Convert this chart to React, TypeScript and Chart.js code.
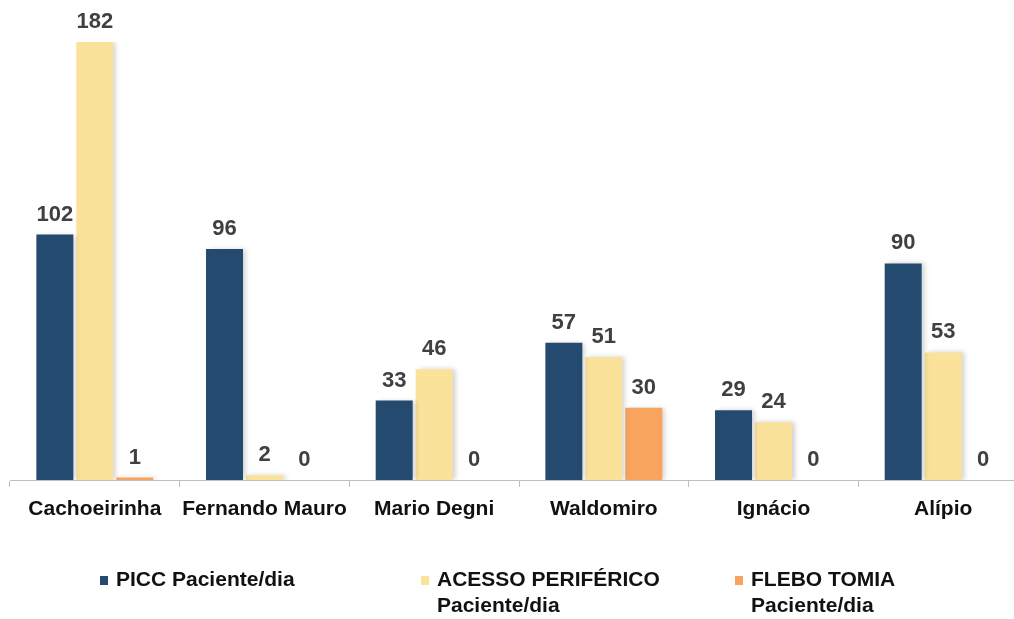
import React, { useEffect, useRef } from "react";
import { Chart, registerables } from "chart.js";

Chart.register(...registerables);

const categories = ["Cachoeirinha", "Fernando Mauro", "Mario Degni", "Waldomiro", "Ignácio", "Alípio"];
const piccValues = [102, 96, 33, 57, 29, 90];
const acessoValues = [182, 2, 46, 51, 24, 53];
const fleboValues = [1, 0, 0, 30, 0, 0];
const seriesLabels = ["PICC Paciente/dia", "ACESSO PERIFÉRICO Paciente/dia", "FLEBOTOMIA Paciente/dia"];
const legendLines = [["PICC Paciente/dia"], ["ACESSO PERIFÉRICO", "Paciente/dia"], ["FLEBO TOMIA", "Paciente/dia"]];
const seriesColors = ["#254A70", "#FBE29B", "#F8A45E"];
const Y_MAX = 182;

const FONT = "'Liberation Sans', Arial, sans-serif";
const CANVAS_W = 1040;
const CANVAS_H = 619;
const legendX = [100, 421, 735];
const legendY = 580;

const customPlugin = {
  id: "custom",
  beforeDatasetsDraw(chart: any) {
    const ctx = chart.ctx;
    ctx.save();
    ctx.shadowColor = "rgba(0,0,0,0.18)";
    ctx.shadowBlur = 5;
    ctx.shadowOffsetX = 3;
    ctx.shadowOffsetY = 0;
  },
  afterDatasetsDraw(chart: any) {
    const ctx = chart.ctx;
    ctx.restore();
    ctx.save();
    ctx.font = `bold 22px ${FONT}`;
    ctx.fillStyle = "#404040";
    ctx.textAlign = "center";
    ctx.textBaseline = "alphabetic";
    chart.data.datasets.forEach((ds: any, i: number) => {
      const meta = chart.getDatasetMeta(i);
      meta.data.forEach((bar: any, j: number) => {
        ctx.fillText(String(ds.data[j]), bar.x, bar.y - 14);
      });
    });
    ctx.restore();
  },
  afterDraw(chart: any) {
    const ctx = chart.ctx;
    ctx.save();
    ctx.font = `bold 21px ${FONT}`;
    ctx.textAlign = "left";
    ctx.textBaseline = "middle";
    legendLines.forEach((lines, i) => {
      const x = legendX[i];
      ctx.fillStyle = seriesColors[i];
      ctx.fillRect(x, legendY - 4, 8, 9);
      ctx.fillStyle = "#111111";
      lines.forEach((line, k) => {
        ctx.fillText(line, x + 16, legendY + k * 26);
      });
    });
    ctx.restore();
  },
};

export default function App() {
  const canvasRef = useRef<HTMLCanvasElement | null>(null);

  useEffect(() => {
    if (!canvasRef.current) return;
    const chart = new Chart(canvasRef.current, {
      type: "bar",
      data: {
        labels: categories,
        datasets: [
          { label: seriesLabels[0], data: piccValues, backgroundColor: seriesColors[0] },
          { label: seriesLabels[1], data: acessoValues, backgroundColor: seriesColors[1] },
          { label: seriesLabels[2], data: fleboValues, backgroundColor: seriesColors[2] },
        ],
      },
      options: {
        responsive: false,
        animation: false,
        devicePixelRatio: 1,
        layout: { padding: { left: 10, right: 12, top: 42, bottom: 0 } },
        datasets: {
          bar: { barPercentage: 0.925, categoryPercentage: 0.707 },
        },
        plugins: {
          legend: { display: false },
          tooltip: { enabled: false },
          title: { display: false },
        },
        scales: {
          y: { display: false, min: 0, max: Y_MAX },
          x: {
            afterFit(scale: any) {
              scale.height = CANVAS_H - 480;
            },
            grid: {
              display: true,
              drawOnChartArea: false,
              drawTicks: true,
              tickLength: 7,
              color: "#BFBFBF",
              offset: true,
            },
            border: { display: true, color: "#BFBFBF", width: 1 },
            ticks: {
              color: "#111111",
              padding: 10,
              font: { family: FONT, size: 21, weight: "bold" },
              maxRotation: 0,
            },
          },
        },
      },
      plugins: [customPlugin],
    });
    return () => chart.destroy();
  }, []);

  return (
    <div
      style={{
        position: "fixed",
        left: 0,
        top: 0,
        width: 1014,
        height: 619,
        overflow: "hidden",
        background: "#ffffff",
      }}
    >
      <canvas ref={canvasRef} width={CANVAS_W} height={CANVAS_H} style={{ display: "block" }} />
    </div>
  );
}
